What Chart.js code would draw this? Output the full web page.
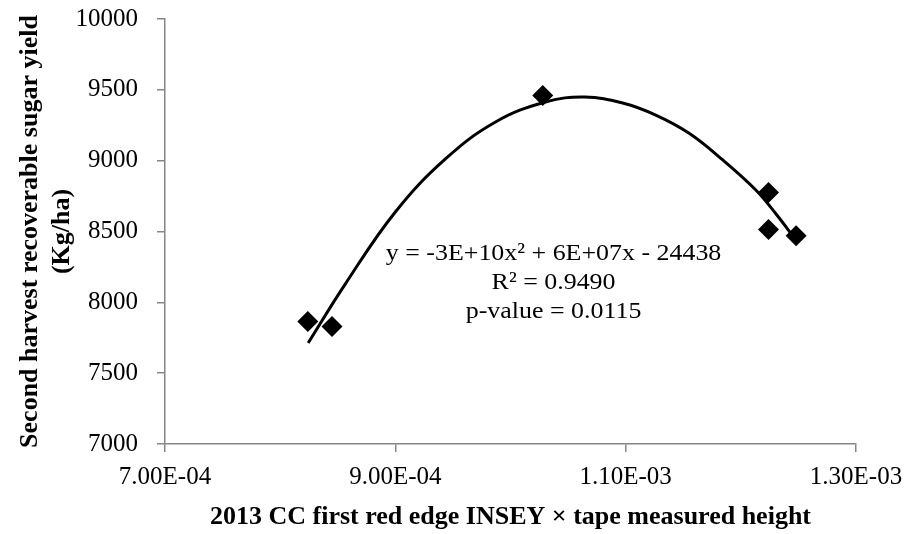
<!DOCTYPE html>
<html><head><meta charset="utf-8">
<script src="https://cdn.jsdelivr.net/npm/chart.js@4/dist/chart.umd.min.js"></script>
<style>html,body{margin:0;padding:0;background:#fff}</style>
</head><body>
<canvas id="c" width="905" height="534"></canvas>
<script>
const xValues = [8.24e-4, 8.45e-4, 1.028e-3, 1.224e-3, 1.224e-3, 1.248e-3];
const yValues = [7865, 7830, 9460, 8775, 8515, 8470];
const trendX = [8.243e-4, 8.565e-4, 9.0e-4, 9.435e-4, 9.870e-4, 1.0304e-3, 1.0643e-3, 1.0974e-3, 1.1261e-3, 1.1548e-3, 1.1843e-3, 1.2130e-3, 1.2304e-3, 1.2478e-3];
const trendY = [7713, 8129, 8638, 9012, 9273, 9414, 9449, 9407, 9322, 9195, 9005, 8793, 8625, 8440];
const xTicks = [7e-4, 9e-4, 1.1e-3, 1.3e-3];
const yTicks = [7000, 7500, 8000, 8500, 9000, 9500, 10000];
const annotationLines = ['y = -3E+10x\u00B2 + 6E+07x - 24438', 'R\u00B2 = 0.9490', 'p-value = 0.0115'];
const annotationAnchor = {x: 1.0374e-3, y: 8340};
const xTitle = '2013 CC first red edge INSEY \u00D7 tape measured height';
const yTitle = ['Second harvest recoverable sugar yield', '(Kg/ha)'];

const FONT = "'Liberation Serif', 'Times New Roman', serif";
const AXIS = '#868686';

function fmtExp(v) {
  let s = Number(v).toExponential(2).toUpperCase();
  return s.replace(/E([+-])(\d)$/, 'E$10$2');
}

const annotationPlugin = {
  id: 'ann',
  afterDatasetsDraw(chart) {
    const ctx = chart.ctx;
    const px = chart.scales.x.getPixelForValue(annotationAnchor.x);
    const py = chart.scales.y.getPixelForValue(annotationAnchor.y);
    ctx.save();
    ctx.font = "24px " + FONT;
    ctx.fillStyle = '#000';
    ctx.textAlign = 'center';
    ctx.textBaseline = 'middle';
    annotationLines.forEach((t, i) => {
      ctx.save();
      ctx.translate(px, py + i * 29);
      ctx.scale(1.08, 1);
      ctx.fillText(t, 0, 0);
      ctx.restore();
    });
    ctx.restore();
  }
};

new Chart(document.getElementById('c'), {
  type: 'scatter',
  data: {
    datasets: [
      {
        label: 'trend',
        data: trendX.map((x, i) => ({x, y: trendY[i]})),
        showLine: true,
        borderColor: '#000',
        borderWidth: 3,
        pointRadius: 0,
        tension: 0.4,
        order: 1
      },
      {
        label: 'data',
        data: xValues.map((x, i) => ({x, y: yValues[i]})),
        pointStyle: 'rectRot',
        pointRadius: 10.5,
        pointBackgroundColor: '#000',
        pointBorderColor: '#000',
        pointBorderWidth: 0,
        order: 2
      }
    ]
  },
  options: {
    responsive: false,
    animation: false,
    devicePixelRatio: 1,
    layout: {padding: {top: 19, right: 49, left: 0, bottom: 0}},
    plugins: {legend: {display: false}, tooltip: {enabled: false}},
    scales: {
      x: {
        type: 'linear',
        min: 7e-4, max: 1.3e-3,
        afterBuildTicks(s) { s.ticks = xTicks.map(v => ({value: v})); },
        afterFit(s) { s.height = 90; s.paddingLeft = 0; s.paddingRight = 0; },
        border: {color: AXIS, width: 1.5},
        grid: {drawOnChartArea: false, color: AXIS, tickLength: 8, lineWidth: 1.5},
        ticks: {color: '#000', font: {family: FONT, size: 25}, padding: 10, callback: v => fmtExp(v), maxRotation: 0},
        title: {display: true, text: xTitle, color: '#000', font: {family: FONT, size: 26, weight: 'bold'}, padding: {top: 0, bottom: 1}}
      },
      y: {
        type: 'linear',
        min: 7000, max: 10000,
        afterBuildTicks(s) { s.ticks = yTicks.map(v => ({value: v})); },
        afterFit(s) { s.width = 165; s.paddingTop = 0; s.paddingBottom = 0; },
        border: {color: AXIS, width: 1.5},
        grid: {drawOnChartArea: false, color: AXIS, tickLength: 8, lineWidth: 1.5},
        ticks: {color: '#000', font: {family: FONT, size: 25}, padding: 19, callback: v => String(v)},
        title: {display: true, text: yTitle, color: '#000', font: {family: FONT, size: 26, weight: 'bold'}, padding: {top: 15, bottom: 0}}
      }
    }
  },
  plugins: [annotationPlugin]
});
</script>
</body></html>
